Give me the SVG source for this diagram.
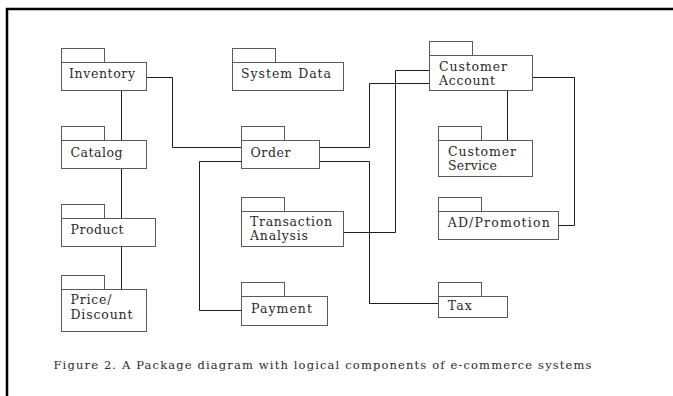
<svg xmlns="http://www.w3.org/2000/svg" width="673" height="396" viewBox="0 0 673 396">
  <style>
    .frame { fill: none; stroke: #000; stroke-width: 2.5; }
    .pkg rect { fill: #fff; stroke: #5a5a5a; stroke-width: 1; }
    .pkg text, .caption { font-family: "DejaVu Serif", "Liberation Serif", serif; fill: #2a2a2a; }
    .pkg text { font-size: 12.5px; }
    .caption { font-size: 11.5px; }
    .link { fill: none; stroke: #1e1e1e; stroke-width: 1; }
  </style>

  <rect width="673" height="396" fill="#fff"/>
  <!-- page frame: top and left rules -->
  <path class="frame" d="M7 396 V9 H673"/>

  <!-- connectors -->
  <g id="connectors">
    <polyline class="link" points="121.5,90.5 121.5,140.5"/>
    <polyline class="link" points="121.5,168.5 121.5,218.5"/>
    <polyline class="link" points="121.5,246.5 121.5,289.5"/>
    <polyline class="link" points="146.5,77.5 172.5,77.5 172.5,147.5 241.5,147.5"/>
    <polyline class="link" points="241.5,161.5 199.5,161.5 199.5,310.5 241.5,310.5"/>
    <polyline class="link" points="319.5,147.5 369.5,147.5 369.5,83.5 429.5,83.5"/>
    <polyline class="link" points="319.5,161.5 369.5,161.5 369.5,303.5 438.5,303.5"/>
    <polyline class="link" points="343.5,232.5 395.5,232.5 395.5,70.5 429.5,70.5"/>
    <polyline class="link" points="507.5,90.5 507.5,140.5"/>
    <polyline class="link" points="532.5,77.5 574.5,77.5 574.5,225.5 558.5,225.5"/>
  </g>

  <!-- packages: tab + body -->
  <g id="inventory" class="pkg">
    <rect x="61.5" y="48.5" width="43" height="14"/>
    <rect x="61.5" y="62.5" width="85" height="28"/>
    <text x="69" y="78" textLength="66" lengthAdjust="spacing">Inventory</text>
  </g>

  <g id="system-data" class="pkg">
    <rect x="232.5" y="48.5" width="43" height="14"/>
    <rect x="232.5" y="62.5" width="111" height="28"/>
    <text x="241" y="78" textLength="90" lengthAdjust="spacing">System Data</text>
  </g>

  <g id="catalog" class="pkg">
    <rect x="61.5" y="126.5" width="43" height="14"/>
    <rect x="61.5" y="140.5" width="85" height="28"/>
    <text x="70.5" y="156.7" textLength="52" lengthAdjust="spacing">Catalog</text>
  </g>

  <g id="order" class="pkg">
    <rect x="241.5" y="126.5" width="43" height="14"/>
    <rect x="241.5" y="140.5" width="78" height="28"/>
    <text x="250.5" y="156.7" textLength="40" lengthAdjust="spacing">Order</text>
  </g>

  <g id="customer-account" class="pkg">
    <rect x="429.5" y="41.5" width="43" height="14"/>
    <rect x="429.5" y="55.5" width="103" height="35"/>
    <text x="439" y="70.5" textLength="68" lengthAdjust="spacing">Customer</text>
    <text x="439" y="84.5" textLength="56" lengthAdjust="spacing">Account</text>
  </g>

  <g id="customer-service" class="pkg">
    <rect x="438.5" y="126.5" width="43" height="14"/>
    <rect x="438.5" y="140.5" width="94" height="36"/>
    <text x="448" y="156.2" textLength="68" lengthAdjust="spacing">Customer</text>
    <text x="448" y="170.3" textLength="49" lengthAdjust="spacing">Service</text>
  </g>

  <g id="product" class="pkg">
    <rect x="61.5" y="204.5" width="43" height="14"/>
    <rect x="61.5" y="218.5" width="94" height="28"/>
    <text x="70.5" y="234.3" textLength="53" lengthAdjust="spacing">Product</text>
  </g>

  <g id="transaction-analysis" class="pkg">
    <rect x="241.5" y="197.5" width="43" height="14"/>
    <rect x="241.5" y="211.5" width="102" height="35"/>
    <text x="250" y="226.2" textLength="82" lengthAdjust="spacing">Transaction</text>
    <text x="250" y="240.3" textLength="58" lengthAdjust="spacing">Analysis</text>
  </g>

  <g id="ad-promotion" class="pkg">
    <rect x="438.5" y="197.5" width="43" height="14"/>
    <rect x="438.5" y="211.5" width="120" height="28"/>
    <text x="447.7" y="227.3" textLength="102" lengthAdjust="spacing">AD/Promotion</text>
  </g>

  <g id="price-discount" class="pkg">
    <rect x="61.5" y="275.5" width="43" height="14"/>
    <rect x="61.5" y="289.5" width="85" height="42"/>
    <text x="70.5" y="304" textLength="41" lengthAdjust="spacing">Price/</text>
    <text x="70.5" y="319.3" textLength="62" lengthAdjust="spacing">Discount</text>
  </g>

  <g id="payment" class="pkg">
    <rect x="241.5" y="282.5" width="43" height="14"/>
    <rect x="241.5" y="296.5" width="86" height="29"/>
    <text x="251" y="312.7" textLength="61" lengthAdjust="spacing">Payment</text>
  </g>

  <g id="tax" class="pkg">
    <rect x="438.5" y="282.5" width="43" height="14"/>
    <rect x="438.5" y="296.5" width="69" height="21"/>
    <text x="447.7" y="310" textLength="24" lengthAdjust="spacing">Tax</text>
  </g>

  <text class="caption" x="53.5" y="368.5" textLength="538" lengthAdjust="spacing">Figure 2. A Package diagram with logical components of e-commerce systems</text>
</svg>
